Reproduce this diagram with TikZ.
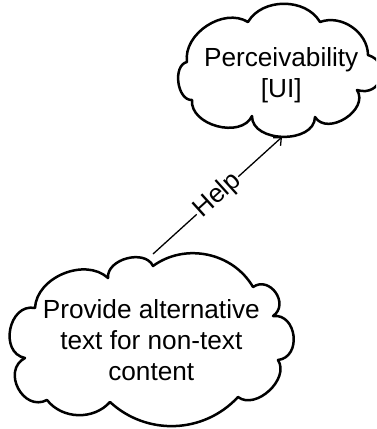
\documentclass[tikz,border=0pt]{standalone}
\usepackage{fontspec}
\setmainfont{Liberation Sans}
\usetikzlibrary{arrows.meta}
\begin{document}
\begin{tikzpicture}[x=1pt,y=1pt,
  cloudline/.style={line width=2.5pt, line join=round},
  cloudtext/.style={align=center, font=\fontsize{26.2}{31.3}\selectfont, inner sep=0pt},
  linktext/.style={font=\fontsize{26.2}{31.3}\selectfont, fill=white, inner sep=1pt, sloped},
  link/.style={line width=1.3pt, -{Straight Barb[length=6pt,width=11pt]}}
]
\fill[white] (0,0) rectangle (376,-429);
\useasboundingbox (0,0) rectangle (376,-429);
\clip (0,0) rectangle (376,-429);

% top cloud
\draw[cloudline] (187,-62) to[bend left=65] (248,-22) to[bend left=60] (320,-22)
  to[bend left=55] (368,-55) to[bend left=90,looseness=1.8] (357,-90)
  to[bend left=90,looseness=1.2] (315,-117) to[bend left=90,looseness=1.1] (252,-116)
  to[bend left=80,looseness=1.05] (192,-100) to[bend left=85] (187,-62) -- cycle;

% bottom cloud
\draw[cloudline] (35,-308) to[bend left=65] (108,-278) to[bend left=80,looseness=1.05] (153,-266)
  to[bend left=48] (253,-287) to[bend left=90,looseness=1.5] (273,-316)
  to[bend left=90,looseness=1.4] (278,-360) to[bend left=80,looseness=1.05] (238,-397)
  to[bend left=45] (110,-402) to[bend left=50] (47,-400)
  to[bend left=90,looseness=1.45] (25,-358) to[bend left=90,looseness=1.35] (35,-308) -- cycle;

\node[cloudtext] (perc) at (281.2,-75) {Perceivability\\{[UI]}};
\node[cloudtext] (prov) at (151.3,-340) {Provide alternative\\text for non-text\\content};

\coordinate (provtop) at (153,-254);
\coordinate (percbot) at (282,-137);
\draw[link] (provtop) -- node[linktext] (help) {Help} (percbot);
\end{tikzpicture}
\end{document}
